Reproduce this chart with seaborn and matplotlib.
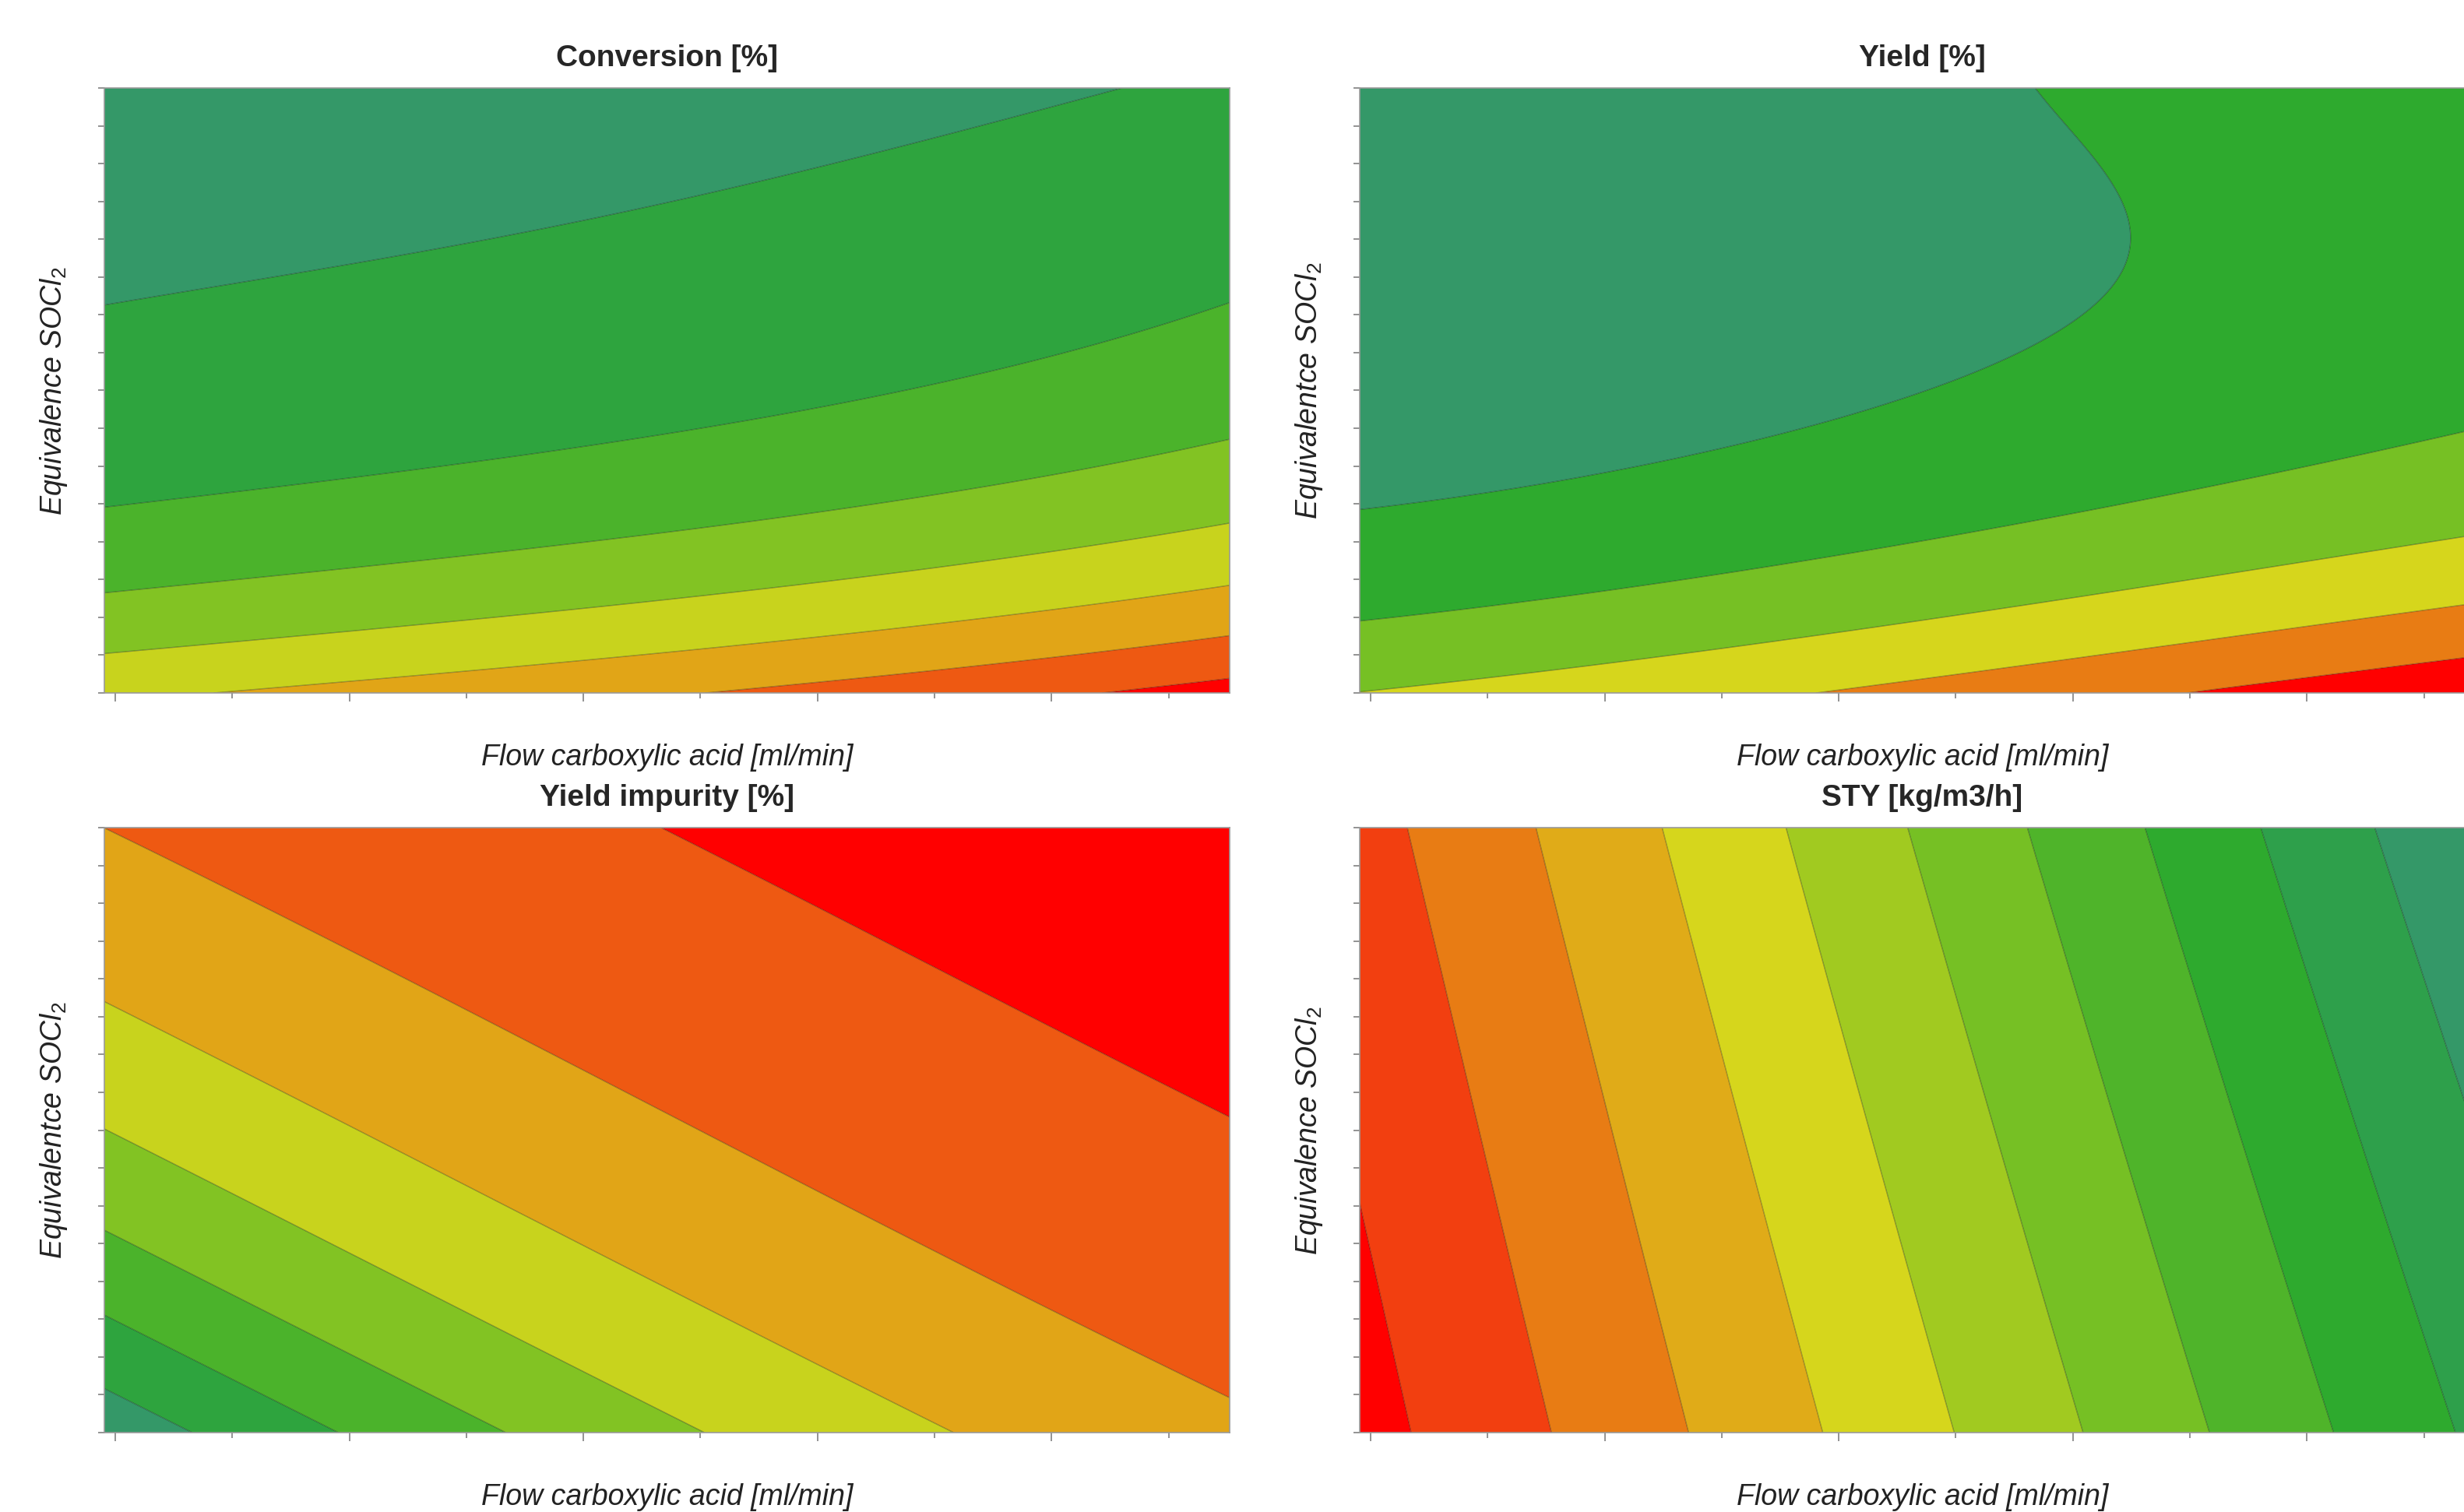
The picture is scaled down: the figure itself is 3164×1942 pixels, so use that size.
import matplotlib
matplotlib.use("Agg")
import matplotlib.pyplot as plt
import numpy as np
import seaborn as sns
from matplotlib.colors import LinearSegmentedColormap

# colour ramp (red -> teal)
ramp_hex = ["#FF0000", "#F24010", "#E87C14", "#E0AC18", "#D6D61C", "#A2CA20",
            "#76C024", "#50B42A", "#2EAA2E", "#2EA04A", "#349868"]

# contour boundaries (axis fractions); level = colour band above the line
conv_x = [0.0, 0.297, 0.448, 0.578, 0.709, 0.807, 0.889,
          0.0, 0.186, 0.382, 0.578, 0.775, 1.0,
          0.0, 0.252, 0.513, 0.775, 1.0,
          0.0, 0.252, 0.513, 0.775, 1.0,
          0.088, 0.317, 0.578, 0.84, 1.0,
          0.52, 0.709, 0.873, 1.0,
          0.886, 1.0]
conv_y = [0.629, 0.735, 0.784, 0.84, 0.899, 0.952, 1.0,
          0.313, 0.354, 0.403, 0.459, 0.531, 0.629,
          0.163, 0.209, 0.265, 0.337, 0.423,
          0.064, 0.104, 0.15, 0.209, 0.285,
          0.0, 0.038, 0.084, 0.143, 0.18,
          0.0, 0.032, 0.064, 0.094,
          0.0, 0.022]
conv_level = [7] * 7 + [6] * 6 + [5] * 5 + [4] * 5 + [3] * 5 + [2] * 4 + [1] * 2

yield_x = [0.568, 0.653, 0.691, 0.694, 0.685, 0.647, 0.59, 0.495, 0.368, 0.242, 0.115, 0.0,
           0.0, 0.242, 0.495, 0.748, 0.981,
           0.0, 0.242, 0.495, 0.748, 0.981,
           0.375, 0.558, 0.748, 0.981,
           0.716, 0.843, 0.981]
yield_y = [1.0, 0.919, 0.82, 0.79, 0.721, 0.649, 0.583, 0.504, 0.425, 0.373, 0.333, 0.304,
           0.117, 0.17, 0.242, 0.334, 0.446,
           0.002, 0.051, 0.11, 0.189, 0.258,
           0.0, 0.038, 0.084, 0.143,
           0.0, 0.025, 0.058]
yield_level = [5] * 12 + [4] * 5 + [3] * 5 + [2] * 4 + [1] * 3
# spots inside the teal (top band) area of the yield panel
yield_band_x = [0.0, 0.25, 0.0, 0.3, 0.45]
yield_band_y = [1.0, 0.95, 0.7, 0.7, 0.85]
yield_band_level = [5.5, 5.5, 5.5, 5.5, 5.5]

imp_x = [0.493, 0.75, 1.0,
         0.0, 0.5, 1.0,
         0.0, 0.376, 0.755,
         0.0, 0.266, 0.533,
         0.0, 0.178, 0.356,
         0.0, 0.105, 0.209,
         0.0, 0.078]
imp_y = [1.0, 0.76, 0.52,
         1.0, 0.528, 0.058,
         0.712, 0.357, 0.0,
         0.502, 0.25, 0.0,
         0.334, 0.167, 0.0,
         0.196, 0.098, 0.0,
         0.071, 0.0]
imp_level = [1] * 3 + [2] * 3 + [3] * 3 + [4] * 3 + [5] * 3 + [6] * 3 + [7] * 2

sty_x = [0.0, 0.046,
         0.041, 0.105, 0.172,
         0.158, 0.226, 0.294,
         0.27, 0.34, 0.411,
         0.38, 0.454, 0.528,
         0.487, 0.564, 0.642,
         0.592, 0.672, 0.753,
         0.696, 0.78, 0.865,
         0.801, 0.888, 0.975,
         0.902, 0.981]
sty_y = [0.354, 0.0] + [1.0, 0.5, 0.0] * 8 + [1.0, 0.557]
sty_level = [1] * 2 + [2] * 3 + [3] * 3 + [4] * 3 + [5] * 3 + [6] * 3 + [7] * 3 + [8] * 3 + [9] * 3 + [10] * 2

titles = ["Conversion [%]", "Yield [%]", "Yield impurity [%]", "STY [kg/m3/h]"]
xlabel = "Flow carboxylic acid [ml/min]"
ylabels = ["Equivalence SOCl$_2$", "Equivalentce SOCl$_2$",
           "Equivalentce SOCl$_2$", "Equivalence SOCl$_2$"]

sns.set_theme(style="white")
plt.rcParams["font.family"] = ["Liberation Sans", "DejaVu Sans"]
plt.rcParams["mathtext.fontset"] = "custom"
plt.rcParams["mathtext.rm"] = "Liberation Sans"
plt.rcParams["mathtext.it"] = "Liberation Sans:italic"

ramp = LinearSegmentedColormap.from_list("ramp", ramp_hex)


def fit_surface(px, py, pz, deg, w=None):
    # weighted least-squares polynomial surface through the read contour boundaries
    px, py, pz = np.asarray(px), np.asarray(py), np.asarray(pz, dtype=float)
    w = np.ones_like(pz) if w is None else np.asarray(w, dtype=float)
    terms = [(i, j) for i in range(deg + 1) for j in range(deg + 1 - i)]
    A = np.column_stack([px ** i * py ** j for i, j in terms])
    coef, *_ = np.linalg.lstsq(A * w[:, None], pz * w, rcond=None)
    gx, gy = np.meshgrid(np.linspace(0, 1, 400), np.linspace(0, 1, 400))
    gz = sum(c * gx ** i * gy ** j for c, (i, j) in zip(coef, terms))
    return gx, gy, gz


fig = plt.figure(figsize=(31.64, 19.42), dpi=100)
W, H = 3164, 1942
ax_w, ax_h = 1445 / W, 777 / H
lefts = [134 / W, 1746 / W]
bottoms = [(H - 890) / H, (H - 1840) / H]

yield_w = [2.0] * 12 + [1.0] * 17 + [0.5] * len(yield_band_x)
panels = [
    (conv_x, conv_y, conv_level, 8, 3, None),
    (yield_x + yield_band_x, yield_y + yield_band_y,
     yield_level + yield_band_level, 6, 3, yield_w),
    (imp_x, imp_y, imp_level, 8, 3, None),
    (sty_x, sty_y, sty_level, 11, 2, None),
]

xt = [0.0097 + 0.104 * i for i in range(10)]
for k, (px, py, pl, nb, deg, wts) in enumerate(panels):
    ax = fig.add_axes([lefts[k % 2], bottoms[k // 2], ax_w, ax_h])
    gx, gy, gz = fit_surface(px, py, pl, deg, wts)
    levels = [-1e9] + list(range(1, nb)) + [1e9]
    cols = ramp(np.linspace(0, 1, nb))
    ax.contourf(gx, gy, gz, levels=levels, colors=cols, antialiased=True)
    ax.contour(gx, gy, gz, levels=list(range(1, nb)), colors="#000000",
               linewidths=1.0, alpha=0.3)
    ax.set_xlim(0, 1)
    ax.set_ylim(0, 1)

    ax.set_xticks(xt[::2])
    ax.set_xticks(xt[1::2], minor=True)
    ax.set_yticks(np.linspace(0, 1, 17))
    ax.set_xticklabels([])
    ax.set_yticklabels([])
    ax.tick_params(axis="both", which="both", direction="out", color="#808080",
                   width=1.2, bottom=True, left=True)
    ax.tick_params(axis="x", which="major", length=8)
    ax.tick_params(axis="x", which="minor", length=5)
    ax.tick_params(axis="y", which="major", length=6)
    for s in ax.spines.values():
        s.set_color("#9a9a9a")
        s.set_linewidth(1.2)

    ax.set_title(titles[k], fontsize=28, fontweight="bold", pad=20)
    ax.set_xlabel(xlabel, fontsize=27, fontstyle="italic", color="#222222")
    ax.xaxis.set_label_coords(0.5, -0.107)
    ax.xaxis.label.set_va("center")
    ax.set_ylabel(ylabels[k], fontsize=27, fontstyle="italic", color="#222222")
    ax.yaxis.set_label_coords(-0.045, 0.5)
    ax.yaxis.label.set_va("center")

fig.savefig("out.png", dpi=100, facecolor="white")
